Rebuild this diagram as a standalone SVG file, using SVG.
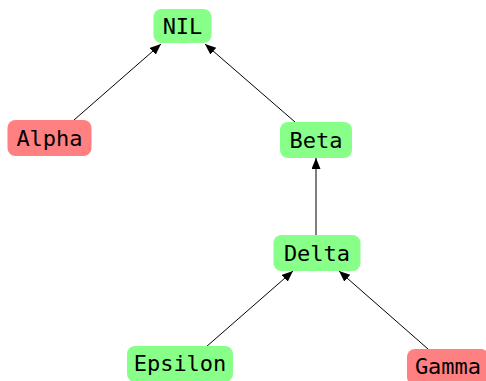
<svg xmlns="http://www.w3.org/2000/svg" width="486" height="381" viewBox="0 0 486 381">
  <style>
    .g { fill: #88ff88; }
    .r { fill: #ff8080; }
    .t { font-family: "DejaVu Sans Mono", monospace; font-size: 22px; fill: #000; text-anchor: middle; }
    .e { stroke: #000; stroke-width: 1; fill: none; marker-end: url(#arr); }
  </style>
  <defs>
    <marker id="arr" markerUnits="userSpaceOnUse" markerWidth="12" markerHeight="10" refX="11" refY="4.5" orient="auto">
      <path d="M0,0 L11,4.5 L0,9 Z" fill="#000"/>
    </marker>
  </defs>
  <rect width="486" height="381" fill="#fff"/>
  <g id="edges">
    <line class="e" x1="74" y1="120" x2="161" y2="44"/>
    <line class="e" x1="295" y1="122" x2="205" y2="44"/>
    <line class="e" x1="316" y1="235" x2="316" y2="158"/>
    <line class="e" x1="206" y1="347" x2="293" y2="271"/>
    <line class="e" x1="428" y1="349" x2="339" y2="271"/>
  </g>
  <g id="NIL">
    <rect class="g" x="153.5" y="9" width="58" height="34" rx="8"/>
    <text class="t" x="182.5" y="34">NIL</text>
  </g>
  <g id="Alpha">
    <rect class="r" x="7.5" y="120" width="84" height="36" rx="8"/>
    <text class="t" x="49.5" y="146">Alpha</text>
  </g>
  <g id="Beta">
    <rect class="g" x="280" y="122" width="72" height="36" rx="8"/>
    <text class="t" x="316" y="148">Beta</text>
  </g>
  <g id="Delta">
    <rect class="g" x="273.5" y="235" width="87" height="36" rx="8"/>
    <text class="t" x="317" y="261">Delta</text>
  </g>
  <g id="Epsilon">
    <rect class="g" x="127" y="346" width="106" height="36" rx="8"/>
    <text class="t" x="180" y="371">Epsilon</text>
  </g>
  <g id="Gamma">
    <rect class="r" x="407" y="349" width="82" height="36" rx="8"/>
    <text class="t" x="448" y="374">Gamma</text>
  </g>
</svg>
